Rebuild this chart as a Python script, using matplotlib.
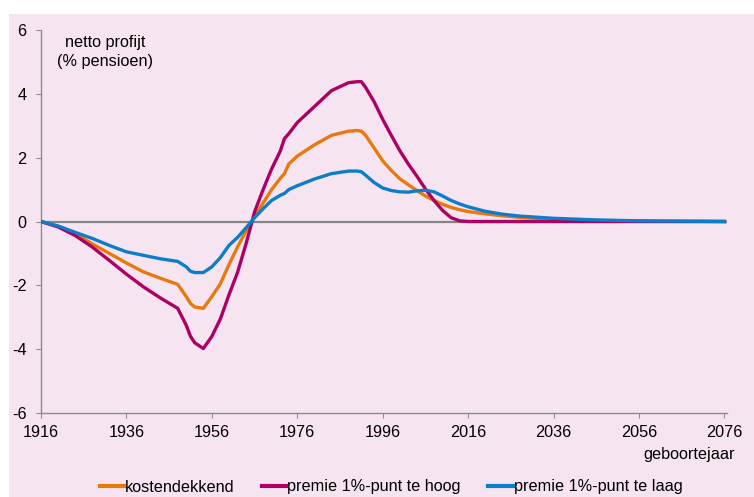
import matplotlib.pyplot as plt
from matplotlib.patches import Rectangle

plt.rcParams['font.family'] = ['Liberation Sans', 'DejaVu Sans']
plt.rcParams['axes.unicode_minus'] = False

# geboortejaar
years = [1916, 1920, 1924, 1928, 1932, 1936, 1940, 1944, 1948, 1950, 1951, 1952,
         1954, 1956, 1958, 1960, 1962, 1964, 1966, 1968, 1970, 1972, 1973, 1974,
         1976, 1980, 1984, 1988, 1990, 1991, 1992, 1994, 1996, 1998, 2000, 2002,
         2004, 2006, 2008, 2010, 2012, 2014, 2016, 2020, 2024, 2028, 2036, 2046,
         2056, 2066, 2076]

kostendekkend = [0, -0.15, -0.38, -0.7, -1.0, -1.3, -1.58, -1.78, -1.97, -2.35, -2.57, -2.68,
                 -2.72, -2.35, -1.95, -1.35, -0.8, -0.3, 0.15, 0.58, 1.0, 1.35, 1.5, 1.8,
                 2.05, 2.4, 2.7, 2.83, 2.85, 2.83, 2.7, 2.3, 1.9, 1.6, 1.34, 1.15,
                 0.97, 0.8, 0.66, 0.54, 0.44, 0.37, 0.31, 0.24, 0.18, 0.13, 0.07, 0.03,
                 0.015, 0.005, 0]

te_hoog = [0, -0.17, -0.44, -0.8, -1.22, -1.65, -2.05, -2.4, -2.72, -3.25, -3.6, -3.8,
           -3.98, -3.6, -3.05, -2.3, -1.6, -0.7, 0.3, 1.0, 1.65, 2.2, 2.6, 2.75,
           3.1, 3.6, 4.1, 4.35, 4.38, 4.38, 4.2, 3.75, 3.2, 2.7, 2.22, 1.8,
           1.42, 1.02, 0.66, 0.35, 0.12, 0.02, 0, 0, 0, 0, 0, 0,
           0, 0, 0]

te_laag = [0, -0.14, -0.34, -0.53, -0.75, -0.95, -1.06, -1.17, -1.25, -1.42, -1.56, -1.6,
           -1.6, -1.42, -1.13, -0.75, -0.5, -0.2, 0.12, 0.4, 0.66, 0.82, 0.88, 1.0,
           1.12, 1.33, 1.5, 1.58, 1.58, 1.56, 1.45, 1.22, 1.05, 0.97, 0.93, 0.92,
           0.96, 0.98, 0.93, 0.8, 0.66, 0.55, 0.46, 0.32, 0.23, 0.17, 0.1, 0.05,
           0.02, 0.01, 0]

xticks = [1916, 1936, 1956, 1976, 1996, 2016, 2036, 2056, 2076]
yticks = [-6, -4, -2, 0, 2, 4, 6]

W, H = 754, 497
fs = 11.7
fig = plt.figure(figsize=(W / 100, H / 100), dpi=100, facecolor='white')
# roze achtergrondvlak, achter de assen
fig.patches.append(Rectangle((9 / W, 0), 1 - 9 / W, 1 - 14 / H, transform=fig.transFigure,
                             facecolor='#F6E5F0', edgecolor='none', zorder=-5))

ax = fig.add_axes([41 / W, 1 - 413 / H, (727 - 41) / W, (413 - 30) / H])
ax.set_facecolor('none')

ax.axhline(0, color='#858585', lw=1.6, zorder=1)
ax.plot(years, kostendekkend, color='#E8790E', lw=2.4, label='kostendekkend', zorder=3)
ax.plot(years, te_hoog, color='#AC0062', lw=2.4, label='premie 1%-punt te hoog', zorder=3)
ax.plot(years, te_laag, color='#0C7DC8', lw=2.4, label='premie 1%-punt te laag', zorder=4)

ax.set_xlim(1916, 2076.6)
ax.set_ylim(-6, 6)
ax.set_xticks(xticks)
ax.set_yticks(yticks)
ax.set_xticklabels([str(x) for x in xticks])
ax.set_yticklabels([str(y) for y in yticks])

for s in ['top', 'right']:
    ax.spines[s].set_visible(False)
for s in ['left', 'bottom']:
    ax.spines[s].set_color('#8C8C8C')
    ax.spines[s].set_linewidth(1.0)
ax.tick_params(direction='out', length=3.5, color='#8C8C8C', labelsize=fs)
ax.tick_params(axis='x', pad=5)
ax.tick_params(axis='y', pad=7)

fig.text(105 / W, 1 - 52 / H, 'netto profijt\n(% pensioen)', ha='center', va='center',
         fontsize=fs, linespacing=1.3)
fig.text(735 / W, 1 - 455 / H, 'geboortejaar', ha='right', va='center', fontsize=fs)

leg = fig.legend(loc='center', bbox_to_anchor=(391 / W, 1 - 487 / H), ncol=3, frameon=False,
                 fontsize=fs, handlelength=1.5, handletextpad=0.05, columnspacing=1.7,
                 borderaxespad=0)
for h in leg.get_lines():
    h.set_linewidth(3)

fig.savefig('out.png', dpi=100)
